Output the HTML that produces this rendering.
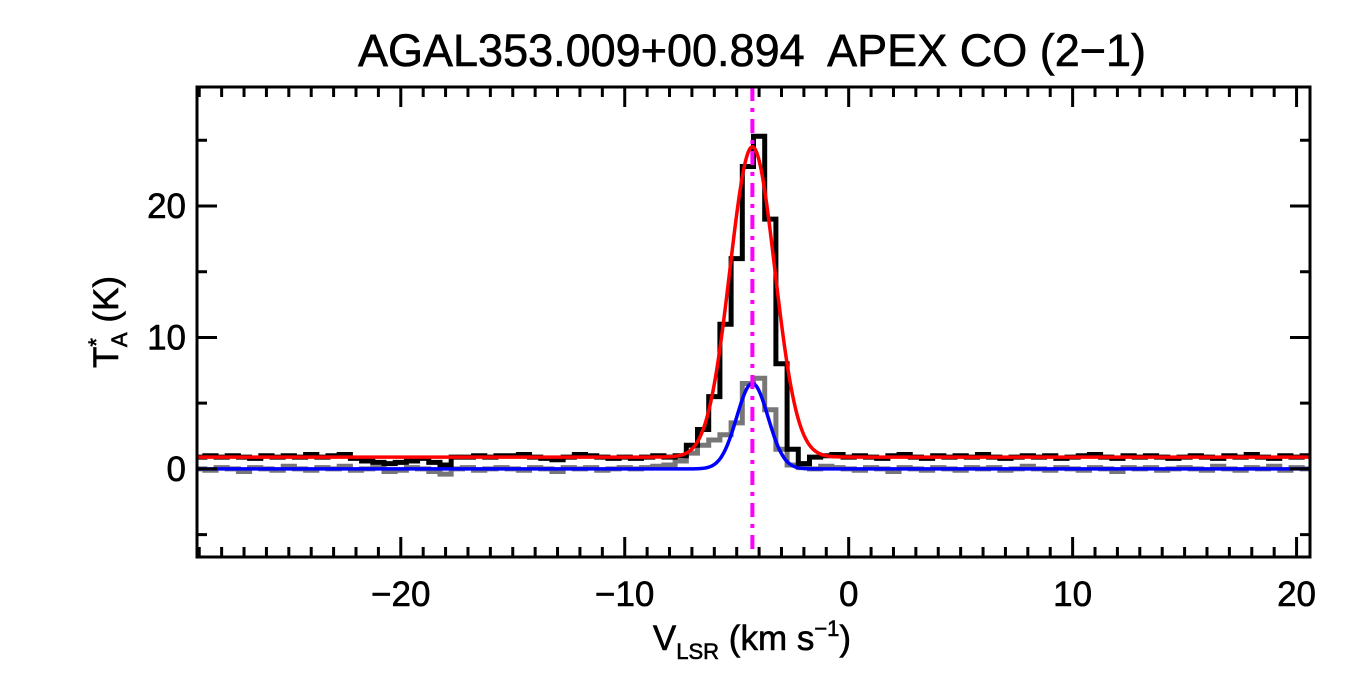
<!DOCTYPE html>
<html><head><meta charset="utf-8"><style>
body{margin:0;background:#fff;}
svg{display:block;font-family:"Liberation Sans",sans-serif;}
text{stroke:#000;stroke-width:0.6;}
</style></head><body>
<svg id="chart" width="1350" height="675">
<text x="752" y="66" text-anchor="middle" font-size="45" xml:space="preserve">AGAL353.009+00.894  APEX CO (2−1)</text>
<g id="plot"></g>
<rect x="197" y="87" width="1113" height="470" fill="none" stroke="#000" stroke-width="3"/>
<text x="752" y="650" text-anchor="middle" font-size="35">V<tspan font-size="22" dy="9">LSR</tspan><tspan dy="-9"> (km s</tspan><tspan font-size="22" dy="-14">−1</tspan><tspan dy="14">)</tspan></text>
<text transform="translate(118,322) rotate(-90)" text-anchor="middle" font-size="35">T<tspan font-size="22" dy="-14">*</tspan><tspan font-size="22" dx="-9" dy="23">A</tspan><tspan dy="-9"> (K)</tspan></text>
</svg>
<script>
const xStart = -29, xStep = 0.5;
const blackData = [0.9,1.0,0.9,1.0,0.9,0.8,1.0,0.9,1.0,0.9,1.1,0.9,1.0,1.1,0.8,0.6,0.5,0.4,
0.5,0.6,0.8,0.5,0.3,0.9,0.9,1.0,0.9,1.0,
1.0,1.1,0.9,0.8,0.7,0.9,1.1,1.0,0.9,0.8,
0.9,0.8,0.9,1.0,0.9,1.0,1.8,3.0,5.5,11,
16,23,25.3,19,8,1.5,0.4,0.9,1.0,1.1,
0.9,1.0,0.9,0.8,1.0,1.1,0.9,0.8,1.0,0.9,
1.0,0.9,1.1,0.9,0.8,0.9,1.0,0.9,1.0,0.8,
0.9,1.0,1.1,0.9,0.8,1.0,0.9,1.0,0.9,0.8,
0.9,1.0,0.9,0.8,1.0,0.9,1.1,0.9,0.8,1.0,0.9,1.0];
const grayData = [0.0,-0.1,0.1,0.0,-0.2,0.1,0.0,-0.1,0.2,0.0,-0.1,0.1,0.0,0.2,-0.1,0.0,0.1,-0.2,
-0.1,0.1,0.0,-0.2,-0.4,0.0,0.1,-0.1,0.0,0.1,
0.0,-0.1,0.1,0.0,-0.2,0.1,0.0,0.1,-0.1,0.0,
0.1,0.0,0.1,0.2,0.3,0.6,1.2,1.8,2.2,2.6,
3.5,6.5,6.9,4.5,1.5,0.3,0.1,0.0,0.2,0.1,
0.0,-0.1,0.1,0.0,-0.2,0.1,0.0,-0.1,0.1,0.0,
-0.1,0.1,0.0,0.1,-0.1,0.0,0.2,0.0,-0.1,0.1,
0.0,-0.1,0.1,0.0,-0.2,0.1,0.0,0.1,-0.1,0.0,
0.1,0.0,-0.1,0.2,0.0,-0.1,0.1,0.0,0.2,-0.1,0.1,0.0];
const redFit = [0.9, 23.6, -4.3, 1.0];   // baseline, amplitude, center, sigma
const blueFit = [0.0, 6.5, -4.3, 0.7];
const vlsr = [-4.3];
const xTicks = [-20,-10,0,10,20];
const yTicks = [0,10,20];
const xMin=-29.1, xMax=20.6, yMin=-6.7, yMax=29.05;
const L=197,R=1310,T=87,B=557;
const sx=v=>L+(v-xMin)/(xMax-xMin)*(R-L);
const sy=v=>B-(v-yMin)/(yMax-yMin)*(B-T);
const NS='http://www.w3.org/2000/svg';
const g=document.getElementById('plot');
function mk(tag,attrs){const e=document.createElementNS(NS,tag);for(const k in attrs)e.setAttribute(k,attrs[k]);g.appendChild(e);return e;}
function stepPath(arr){let d='';arr.forEach((v,i)=>{const x0=sx(xStart+i*xStep-xStep/2),x1=sx(xStart+i*xStep+xStep/2);const y=sy(v);d+=(i?'L':'M')+Math.max(L,x0)+','+y+'L'+Math.min(R,x1)+','+y;});return d;}
function gaussPath(p){let d='';for(let x=xMin;x<=xMax;x+=0.05){const y=p[0]+p[1]*Math.exp(-Math.pow(x-p[2],2)/(2*p[3]*p[3]));d+=(d?'L':'M')+sx(x)+','+sy(y);}return d;}
let e;
e=mk('path',{d:stepPath(grayData),fill:'none',stroke:'#777',"stroke-width":5});


e=mk('path',{d:stepPath(blackData),fill:'none',stroke:'#000',"stroke-width":5});


e=mk('path',{d:gaussPath(redFit),fill:'none',stroke:'#f00',"stroke-width":3.5});


e=mk('path',{d:gaussPath(blueFit),fill:'none',stroke:'#00f',"stroke-width":3.5});


e=mk('line',{x1:sx(vlsr[0]),x2:sx(vlsr[0]),y1:T,y2:B,stroke:'#f0f',"stroke-width":4,"stroke-dasharray":"14,7,4,7"});


for(let v=-29;v<=20;v++){const major=v%10===0;const len=major?20:10;const x=sx(v);
 e=mk('path',{d:`M${x},${B}L${x},${B-len}M${x},${T}L${x},${T+len}`,stroke:'#000',"stroke-width":3});
 
 }
for(let v=-5;v<=25;v+=5){const major=v%10===0;const len=major?20:10;const y=sy(v);
 e=mk('path',{d:`M${L},${y}L${L+len},${y}M${R},${y}L${R-len},${y}`,stroke:'#000',"stroke-width":3});
 
 }
xTicks.forEach(v=>{e=mk('text',{x:sx(v),y:606,"text-anchor":"middle","font-size":35});e.textContent=String(v).replace('-','−');
 
 });
yTicks.forEach(v=>{e=mk('text',{x:186,y:sy(v)+12,"text-anchor":"end","font-size":35});e.textContent=String(v);
 
 });
</script>
</body></html>
